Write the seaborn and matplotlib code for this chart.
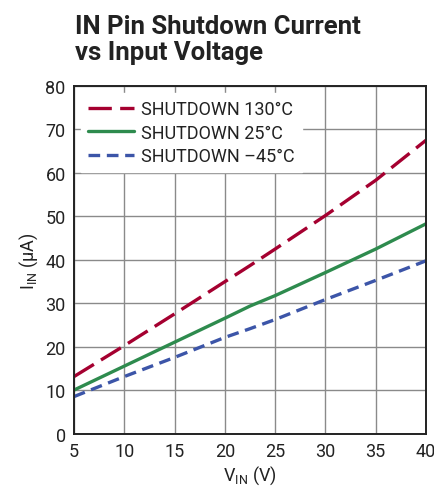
import pandas as pd
import matplotlib.pyplot as plt
import seaborn as sns

# values
vin = [5, 10, 15, 20, 22.5, 25, 30, 35, 40]
i_130 = [13.2, 20.3, 27.6, 35.0, 38.7, 42.5, 50.2, 58.3, 67.5]
i_25 = [10.1, 15.6, 21.1, 26.6, 29.4, 31.8, 37.1, 42.5, 48.3]
i_m45 = [8.6, 13.2, 17.6, 22.2, 24.2, 26.3, 30.9, 35.3, 39.8]
labels = ['SHUTDOWN 130°C', 'SHUTDOWN 25°C', 'SHUTDOWN \u201345°C']
colors = ['#A50030', '#2E8B4E', '#3C55A8']

df = pd.concat([
    pd.DataFrame({'VIN': vin, 'IIN': i_130, 'curve': labels[0]}),
    pd.DataFrame({'VIN': vin, 'IIN': i_25, 'curve': labels[1]}),
    pd.DataFrame({'VIN': vin, 'IIN': i_m45, 'curve': labels[2]}),
])

sns.set_style('white')
plt.rcParams['font.family'] = ['Roboto', 'DejaVu Sans']
plt.rcParams['mathtext.fontset'] = 'custom'
plt.rcParams['mathtext.rm'] = 'Roboto'

fig = plt.figure(figsize=(4.34, 4.89), dpi=100)
ax = fig.add_axes([0.1705, 0.1104, 0.811, 0.712])

sns.lineplot(data=df, x='VIN', y='IIN', hue='curve', palette=colors,
             linewidth=2.4, ax=ax)
dashes = [(7, 2.5), (None, None), (3.5, 2)]
for line, d in zip(ax.get_lines(), dashes):
    if d[0] is not None:
        line.set_dashes(d)

ax.set_xlim(5, 40)
ax.set_ylim(0, 80)
ax.set_xticks(range(5, 41, 5))
ax.set_yticks(range(0, 81, 10))
ax.grid(True, color='#8a8a8a', linewidth=1)
ax.tick_params(direction='in', length=4, labelsize=13, color='#555555', pad=6,
               labelcolor='#222222')
for s in ax.spines.values():
    s.set_color('#222222')
    s.set_linewidth(1.4)

ax.set_xlabel('V$_{\\mathregular{IN}}$ (V)', fontsize=13, labelpad=2, color='#222222')
ax.set_ylabel('I$_{\\mathregular{IN}}$ (\u00b5A)', fontsize=13, labelpad=4, color='#222222')

handles = ax.get_lines()[:3]
leg = ax.legend(handles, labels, loc='upper left', fontsize=13, frameon=True,
                handlelength=2.5, handletextpad=0.4, labelspacing=0.3,
                borderaxespad=0.4, fancybox=False)
leg.get_frame().set_edgecolor('white')
leg.get_frame().set_facecolor('white')
leg.get_frame().set_alpha(1)
for t in leg.get_texts():
    t.set_color('#222222')

fig.text(0.172, 0.868, 'IN Pin Shutdown Current\nvs Input Voltage', fontsize=18.5,
         fontweight='bold', ha='left', va='bottom', linespacing=1.1, color='#222222')

fig.savefig('out.png', dpi=100)
